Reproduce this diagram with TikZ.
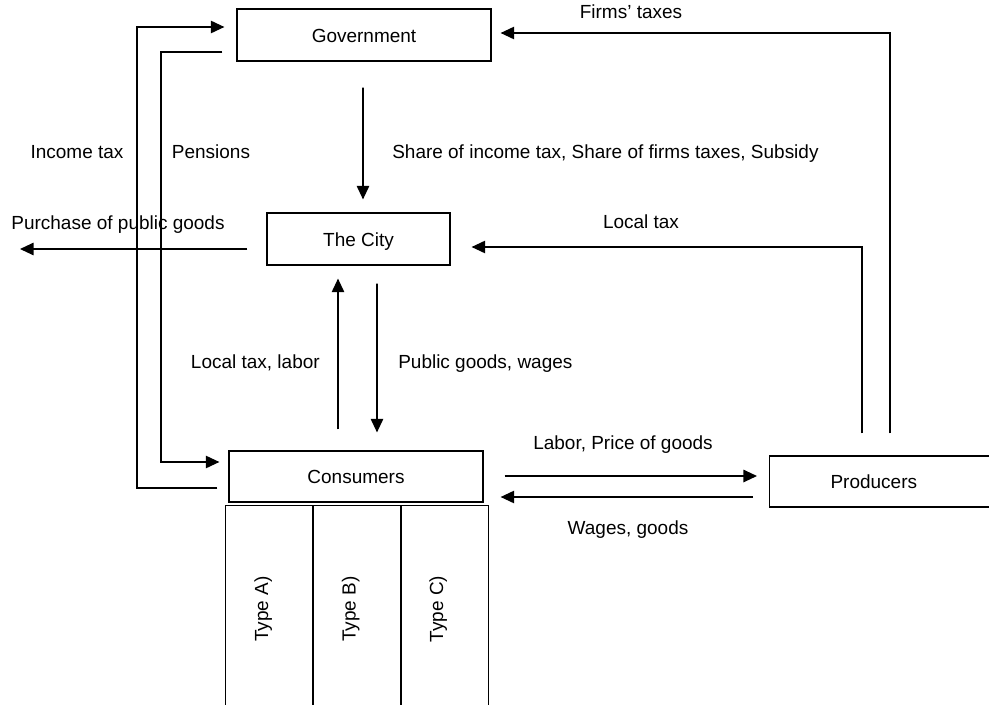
\documentclass[tikz,border=0pt]{standalone}
\usepackage{fontspec}
\setmainfont{Liberation Sans}
\usetikzlibrary{arrows.meta,calc}

\begin{document}
\begin{tikzpicture}[x=0.025cm, y=-0.025cm,
  font=\fontsize{13.5}{16}\selectfont,
  box/.style = {draw, line width=0.8pt, minimum height=1.3cm, inner sep=0pt, text height=2.2ex, text depth=.25ex},
  flow/.style = {line width=1.1pt, -{Triangle[length=3.4mm,width=3.1mm]}},
  lbl/.style = {inner sep=0pt, text height=1.5ex, text depth=.25ex}]

\clip (0,0) rectangle (989,705);

% agents
\node[box, minimum width=6.35cm] (gov) at (364,35) {Government};
\node[box, minimum width=4.575cm] (city) at (358.5,239) {The City};
\node[box, minimum width=6.35cm, minimum height=1.275cm] (cons) at (356,476.5) {Consumers};
\node[box, anchor=west, minimum height=1.275cm, inner xsep=1.525cm, text width=4cm, align=left] (prod) at (769,481.5) {Producers};

% consumer types
\foreach \x/\n in {269.5/A, 357/B, 444.5/C} {
  \node[box, anchor=north, minimum width=2.2cm, minimum height=5.175cm] (col\n) at (\x,505) {};
  \node[lbl, rotate=90] (type\n) at ($(col\n.center)+(-6,0)$) {Type \n)};
}

% income tax and pensions
\draw[flow] ($(cons.west)+(-11,11.5)$) -| (137,27) -- ($(gov.west)+(-12,-8)$);
\draw[flow] ($(gov.west)+(-14,17)$) -| (161,462) -- ($(cons.west)+(-9,-14.5)$);
\node[lbl] (inctax) at (77,154) {Income tax};
\node[lbl] (pens) at (211,154) {Pensions};

% city spending
\coordinate (market) at (20,249);
\draw[flow] ($(city.west)+(-19,10)$) -- (market);
\node[lbl] (buy) at (118,225) {Purchase of public goods};

% transfers to the city
\draw[flow] ($(gov.south)+(-1,26)$) -- ($(city.north)+(4.5,-13)$);
\node[lbl, anchor=west] (share) at (392,154) {Share of income tax, Share of firms taxes, Subsidy};

% city and consumers
\draw[flow] ($(cons.north)+(-18,-21)$) -- ($(city.south)+(-20.5,13)$);
\draw[flow] ($(city.south)+(18.5,18)$) -- ($(cons.north)+(21,-18)$);
\node[lbl, anchor=east] (paid) at (320,364) {Local tax, labor};
\node[lbl, anchor=west] (given) at (398,364) {Public goods, wages};

% consumers and producers
\draw[flow] ($(cons.east)+(21,-0.5)$) -- ($(prod.west)+(-12,-5.5)$);
\draw[flow] ($(prod.west)+(-16,15.5)$) -- ($(cons.east)+(17,20.5)$);
\node[lbl] (sold) at (623,445) {Labor, Price of goods};
\node[lbl] (bought) at (628,530) {Wages, goods};

% producers' taxes
\draw[flow] ($(prod.north west)+(121,-22)$) |- ($(gov.east)+(9,-2)$);
\draw[flow] ($(prod.north west)+(93,-22)$) |- ($(city.east)+(21,8)$);
\node[lbl] (firmtax) at (631,14) {Firms' taxes};
\node[lbl] (loctax) at (641,224) {Local tax};

\end{tikzpicture}
\end{document}
